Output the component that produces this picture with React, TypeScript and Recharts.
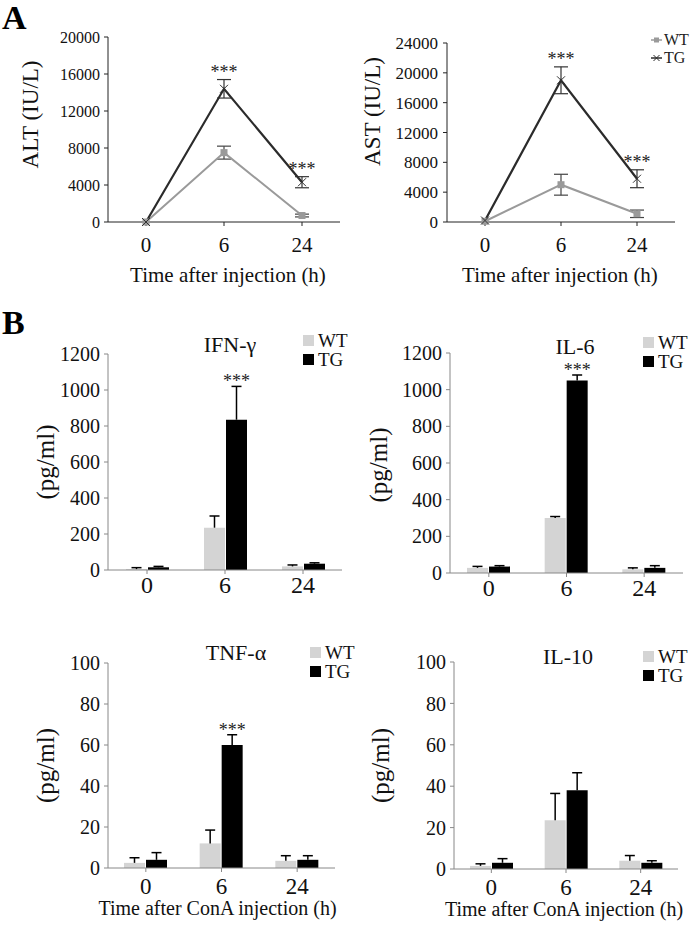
import {
  LineChart,
  Line,
  BarChart,
  Bar,
  XAxis,
  YAxis,
  ErrorBar,
  ReferenceDot,
  LabelList,
  Legend,
} from 'recharts'

const FONT = '"Liberation Serif", "Times New Roman", Times, serif'

const times = ['0', '6', '24']
const groups = ['WT', 'TG']

// A: serum ALT / AST (IU/L)
const altWT = [0, 7500, 700]
const altWTErr = [0, 700, 150]
const altTG = [0, 14400, 4300]
const altTGErr = [0, 1000, 600]
const altSig = [false, true, true]
const altTicks = [0, 4000, 8000, 12000, 16000, 20000]

const astWT = [100, 5000, 1100]
const astWTErr = [0, 1400, 500]
const astTG = [200, 19000, 5800]
const astTGErr = [0, 1800, 1200]
const astSig = [false, true, true]
const astTicks = [0, 4000, 8000, 12000, 16000, 20000, 24000]

// B: serum cytokines (pg/ml)
const ifnWT = [5, 235, 20]
const ifnWTErr = [8, 65, 8]
const ifnTG = [15, 835, 35]
const ifnTGErr = [5, 185, 5]
const ifnSig = [false, true, false]

const il6WT = [28, 300, 20]
const il6WTErr = [8, 8, 8]
const il6TG = [35, 1050, 28]
const il6TGErr = [5, 30, 12]
const il6Sig = [false, true, false]

const tnfWT = [2.5, 12, 3.5]
const tnfWTErr = [2.5, 6.5, 2.5]
const tnfTG = [4, 60, 4]
const tnfTGErr = [3.5, 5, 2]
const tnfSig = [false, true, false]

const il10WT = [1.5, 23.5, 4]
const il10WTErr = [1, 13, 2.5]
const il10TG = [3, 38, 3]
const il10TGErr = [2, 8.5, 1]
const il10Sig = [false, false, false]

const bigTicks = [0, 200, 400, 600, 800, 1000, 1200]
const smallTicks = [0, 20, 40, 60, 80, 100]

const rows = (wt: number[], wtErr: number[], tg: number[], tgErr: number[]) =>
  times.map((time, i) => ({ time, WT: wt[i], wtErr: wtErr[i], TG: tg[i], tgErr: tgErr[i] }))

// serif tick text
const xTick = (size: number) => (props: any) => {
  const { x, y, payload, index } = props
  return (
    <text key={`xt-${index}`} x={x} y={y} dy="0.71em" textAnchor="middle" fontSize={size} fontFamily={FONT} fill="#111">
      {payload.value}
    </text>
  )
}

const yTick = (size: number) => (props: any) => {
  const { x, y, payload, index } = props
  return (
    <text key={`yt-${index}`} x={x} y={y} dy="0.355em" textAnchor="end" fontSize={size} fontFamily={FONT} fill="#111">
      {payload.value}
    </text>
  )
}

const yTitle = (text: string, x: number, dy: number, size: number) => (props: any) => {
  const vb = props.viewBox
  const cy = vb.y + vb.height / 2 + dy
  return (
    <text
      x={x}
      y={cy}
      transform={`rotate(-90, ${x}, ${cy})`}
      textAnchor="middle"
      dominantBaseline="central"
      fontSize={size}
      fontFamily={FONT}
      fill="#111"
    >
      {text}
    </text>
  )
}

const xTitle = (text: string, dy: number, dx: number, size: number) => (props: any) => {
  const vb = props.viewBox
  return (
    <text x={vb.x + vb.width / 2 + dx} y={vb.y + dy} textAnchor="middle" fontSize={size} fontFamily={FONT} fill="#111">
      {text}
    </text>
  )
}

const SquareDot = (props: any) => {
  const { cx, cy, index } = props
  return <rect key={`sq-${index}`} x={cx - 3.5} y={cy - 3.5} width={7} height={7} fill="#9a9a9a" />
}

const CrossDot = (props: any) => {
  const { cx, cy, index } = props
  return (
    <path
      key={`x-${index}`}
      d={`M${cx - 4},${cy - 4}L${cx + 4},${cy + 4}M${cx - 4},${cy + 4}L${cx + 4},${cy - 4}`}
      stroke="#333"
      strokeWidth={1}
      fill="none"
    />
  )
}

const ordered = (payload: any[] = []) =>
  groups.map((g) => payload.find((it: any) => it.value === g)).filter(Boolean)

function LineLegend(props: any) {
  return (
    <div style={{ fontFamily: FONT, fontSize: 16, color: '#222', lineHeight: '18px' }}>
      {ordered(props.payload).map((it: any) => (
        <div key={it.value} style={{ display: 'flex', alignItems: 'center', height: 18 }}>
          <svg width={11} height={10} style={{ marginRight: 2 }}>
            <line x1={0} x2={11} y1={5} y2={5} stroke={it.color} strokeWidth={1.5} />
            {it.value === 'WT' ? (
              <rect x={3} y={2.5} width={5} height={5} fill={it.color} />
            ) : (
              <path d="M2.5,2L8.5,8M2.5,8L8.5,2" stroke={it.color} strokeWidth={1} />
            )}
          </svg>
          <span>{it.value}</span>
        </div>
      ))}
    </div>
  )
}

function BoxLegend(props: any) {
  return (
    <div style={{ fontFamily: FONT, fontSize: 19, color: '#111', lineHeight: '19px' }}>
      {ordered(props.payload).map((it: any) => (
        <div key={it.value} style={{ display: 'flex', alignItems: 'center', height: 19 }}>
          <span style={{ display: 'inline-block', width: 11, height: 11, background: it.color, marginRight: 4 }} />
          <span>{it.value}</span>
        </div>
      ))}
    </div>
  )
}

// error whisker (upwards only) + significance stars drawn on top of each bar
const barError = (vals: number[], errs: number[], sig?: boolean[]) => (props: any) => {
  const vb = props.viewBox ?? props
  const x = props.x ?? vb.x
  const y = props.y ?? vb.y
  const width = props.width ?? vb.width
  const height = props.height ?? vb.height
  const i = props.index
  const v = vals[i]
  if (!v || !height) return null
  const top = y - (errs[i] * height) / v
  const cx = x + width / 2
  return (
    <g key={`err-${i}`}>
      <line x1={cx} x2={cx} y1={y} y2={top} stroke="#000" strokeWidth={1.5} />
      <line x1={cx - 5} x2={cx + 5} y1={top} y2={top} stroke="#000" strokeWidth={1.5} />
      {sig && sig[i] ? (
        <text x={cx} y={top + 1} textAnchor="middle" fontSize={18} fontFamily={FONT} fill="#222">
          ***
        </text>
      ) : null}
    </g>
  )
}

function SerumChart(p: any) {
  const data = rows(p.wt, p.wtErr, p.tg, p.tgErr)
  return (
    <div style={{ position: 'absolute', left: p.left, top: 0 }}>
      <LineChart width={350} height={290} data={data} margin={p.margin} style={{ fontFamily: FONT }}>
        <XAxis
          dataKey="time"
          padding={{ left: p.pad, right: p.pad }}
          height={60}
          axisLine={{ stroke: '#222' }}
          tickLine={{ stroke: '#222' }}
          tickSize={4}
          tickMargin={11}
          tick={xTick(21)}
          label={xTitle('Time after injection (h)', 60, p.titleDx, 21)}
        />
        <YAxis
          domain={[0, p.ticks[p.ticks.length - 1]]}
          ticks={p.ticks}
          interval={0}
          width={p.yWidth}
          axisLine={{ stroke: '#222' }}
          tickLine={{ stroke: '#222' }}
          tickSize={4}
          tickMargin={p.tickGap}
          tick={yTick(p.tickFont)}
          label={yTitle(p.label, p.labelX, p.labelDy, 23)}
        />
        {p.legend ? (
          <Legend
            content={LineLegend}
            layout="vertical"
            align="center"
            verticalAlign="middle"
            wrapperStyle={{ top: 31, left: 301, width: 50 }}
          />
        ) : null}
        <Line dataKey="WT" stroke="#9a9a9a" strokeWidth={2} dot={SquareDot} isAnimationActive={false}>
          <ErrorBar dataKey="wtErr" width={7} stroke="#444" strokeWidth={1.2} direction="y" />
        </Line>
        <Line dataKey="TG" stroke="#2b2b2b" strokeWidth={2.2} dot={CrossDot} isAnimationActive={false}>
          <ErrorBar dataKey="tgErr" width={7} stroke="#333" strokeWidth={1.2} direction="y" />
        </Line>
        {times.map((t, i) =>
          p.sig[i] ? (
            <ReferenceDot
              key={`sig-${t}`}
              x={t}
              y={p.tg[i] + p.tgErr[i]}
              r={1}
              fill="none"
              stroke="none"
              label={{ value: '***', position: 'top', offset: 1, fontSize: 18, fill: '#222', fontFamily: FONT }}
            />
          ) : null,
        )}
      </LineChart>
    </div>
  )
}

function CytokineChart(p: any) {
  const data = rows(p.wt, p.wtErr, p.tg, p.tgErr)
  return (
    <div style={{ position: 'absolute', left: p.left, top: p.top }}>
      <BarChart
        width={350}
        height={p.height}
        data={data}
        margin={p.margin}
        barSize={21}
        barGap={1}
        style={{ fontFamily: FONT }}
      >
        <XAxis
          dataKey="time"
          height={p.xHeight}
          axisLine={{ stroke: '#888' }}
          tickLine={{ stroke: '#888' }}
          tickSize={4}
          tickMargin={p.xTickGap}
          tick={xTick(p.xTickFont)}
          label={p.xTitle ? xTitle('Time after ConA injection (h)', p.xTitleDy, p.xTitleDx, 20) : undefined}
        />
        <YAxis
          domain={[0, p.ticks[p.ticks.length - 1]]}
          ticks={p.ticks}
          interval={0}
          width={p.yWidth}
          axisLine={{ stroke: '#888' }}
          tickLine={{ stroke: '#888' }}
          tickSize={4}
          tickMargin={4}
          tick={yTick(20)}
          label={yTitle('(pg/ml)', p.labelX, p.labelDy, 25)}
        />
        <Legend
          content={BoxLegend}
          layout="vertical"
          align="center"
          verticalAlign="middle"
          wrapperStyle={{ top: p.legendTop, left: p.legendLeft, width: 50 }}
        />
        <Bar dataKey="WT" fill="#d4d4d4" isAnimationActive={false}>
          <LabelList dataKey="WT" content={barError(p.wt, p.wtErr)} />
        </Bar>
        <Bar dataKey="TG" fill="#000" isAnimationActive={false}>
          <LabelList dataKey="TG" content={barError(p.tg, p.tgErr, p.sig)} />
        </Bar>
      </BarChart>
    </div>
  )
}

const titleStyle = (cx: number, top: number): any => ({
  position: 'absolute',
  left: cx - 60,
  top,
  width: 120,
  textAlign: 'center',
  fontSize: 22,
  lineHeight: '22px',
  fontFamily: FONT,
  color: '#111',
})

const letterStyle = (top: number): any => ({
  position: 'absolute',
  left: 2,
  top,
  fontSize: 34,
  lineHeight: '34px',
  fontWeight: 'bold',
  fontFamily: FONT,
  color: '#000',
})

export default function App() {
  return (
    <div
      style={{
        position: 'absolute',
        left: 0,
        top: 0,
        width: 700,
        height: 925,
        background: '#fff',
        overflow: 'hidden',
        fontFamily: FONT,
      }}
    >
      <div style={letterStyle(1)}>A</div>
      <div style={letterStyle(306)}>B</div>

      <SerumChart
        left={0}
        margin={{ top: 37, right: 10, left: 0, bottom: 8 }}
        pad={38}
        yWidth={108}
        tickGap={4}
        tickFont={16}
        titleDx={4}
        label="ALT (IU/L)"
        labelX={30}
        labelDy={-15}
        wt={altWT}
        wtErr={altWTErr}
        tg={altTG}
        tgErr={altTGErr}
        sig={altSig}
        ticks={altTicks}
      />
      <SerumChart
        left={350}
        margin={{ top: 43, right: 25, left: 0, bottom: 8 }}
        pad={38}
        yWidth={97}
        tickGap={5}
        tickFont={17}
        titleDx={-1}
        label="AST (IU/L)"
        labelX={22}
        labelDy={-21}
        wt={astWT}
        wtErr={astWTErr}
        tg={astTG}
        tgErr={astTGErr}
        sig={astSig}
        ticks={astTicks}
        legend
      />

      <CytokineChart
        left={0}
        top={290}
        height={320}
        margin={{ top: 64, right: 8, left: 0, bottom: 10 }}
        xHeight={30}
        xTickGap={2}
        xTickFont={24}
        yWidth={108}
        labelX={45}
        labelDy={0}
        legendTop={41}
        legendLeft={303}
        wt={ifnWT}
        wtErr={ifnWTErr}
        tg={ifnTG}
        tgErr={ifnTGErr}
        sig={ifnSig}
        ticks={bigTicks}
      />
      <CytokineChart
        left={350}
        top={290}
        height={320}
        margin={{ top: 63, right: 17, left: 0, bottom: 7 }}
        xHeight={30}
        xTickGap={2}
        xTickFont={24}
        yWidth={100}
        labelX={28}
        labelDy={2}
        legendTop={43}
        legendLeft={293}
        wt={il6WT}
        wtErr={il6WTErr}
        tg={il6TG}
        tgErr={il6TGErr}
        sig={il6Sig}
        ticks={bigTicks}
      />
      <CytokineChart
        left={0}
        top={610}
        height={315}
        margin={{ top: 53, right: 15, left: 0, bottom: 2 }}
        xHeight={55}
        xTickGap={6}
        xTickFont={23}
        xTitle
        xTitleDy={47}
        xTitleDx={-4}
        yWidth={108}
        labelX={45}
        labelDy={0}
        legendTop={33}
        legendLeft={310}
        wt={tnfWT}
        wtErr={tnfWTErr}
        tg={tnfTG}
        tgErr={tnfTGErr}
        sig={tnfSig}
        ticks={smallTicks}
      />
      <CytokineChart
        left={350}
        top={610}
        height={315}
        margin={{ top: 52, right: 22, left: 0, bottom: 1 }}
        xHeight={55}
        xTickGap={6}
        xTickFont={23}
        xTitle
        xTitleDy={47}
        xTitleDx={-2}
        yWidth={104}
        labelX={30}
        labelDy={0}
        legendTop={37}
        legendLeft={293}
        wt={il10WT}
        wtErr={il10WTErr}
        tg={il10TG}
        tgErr={il10TGErr}
        sig={il10Sig}
        ticks={smallTicks}
      />

      <div style={titleStyle(230, 334)}>IFN-γ</div>
      <div style={titleStyle(575, 336)}>IL-6</div>
      <div style={titleStyle(236, 642)}>TNF-α</div>
      <div style={titleStyle(568, 646)}>IL-10</div>
    </div>
  )
}
